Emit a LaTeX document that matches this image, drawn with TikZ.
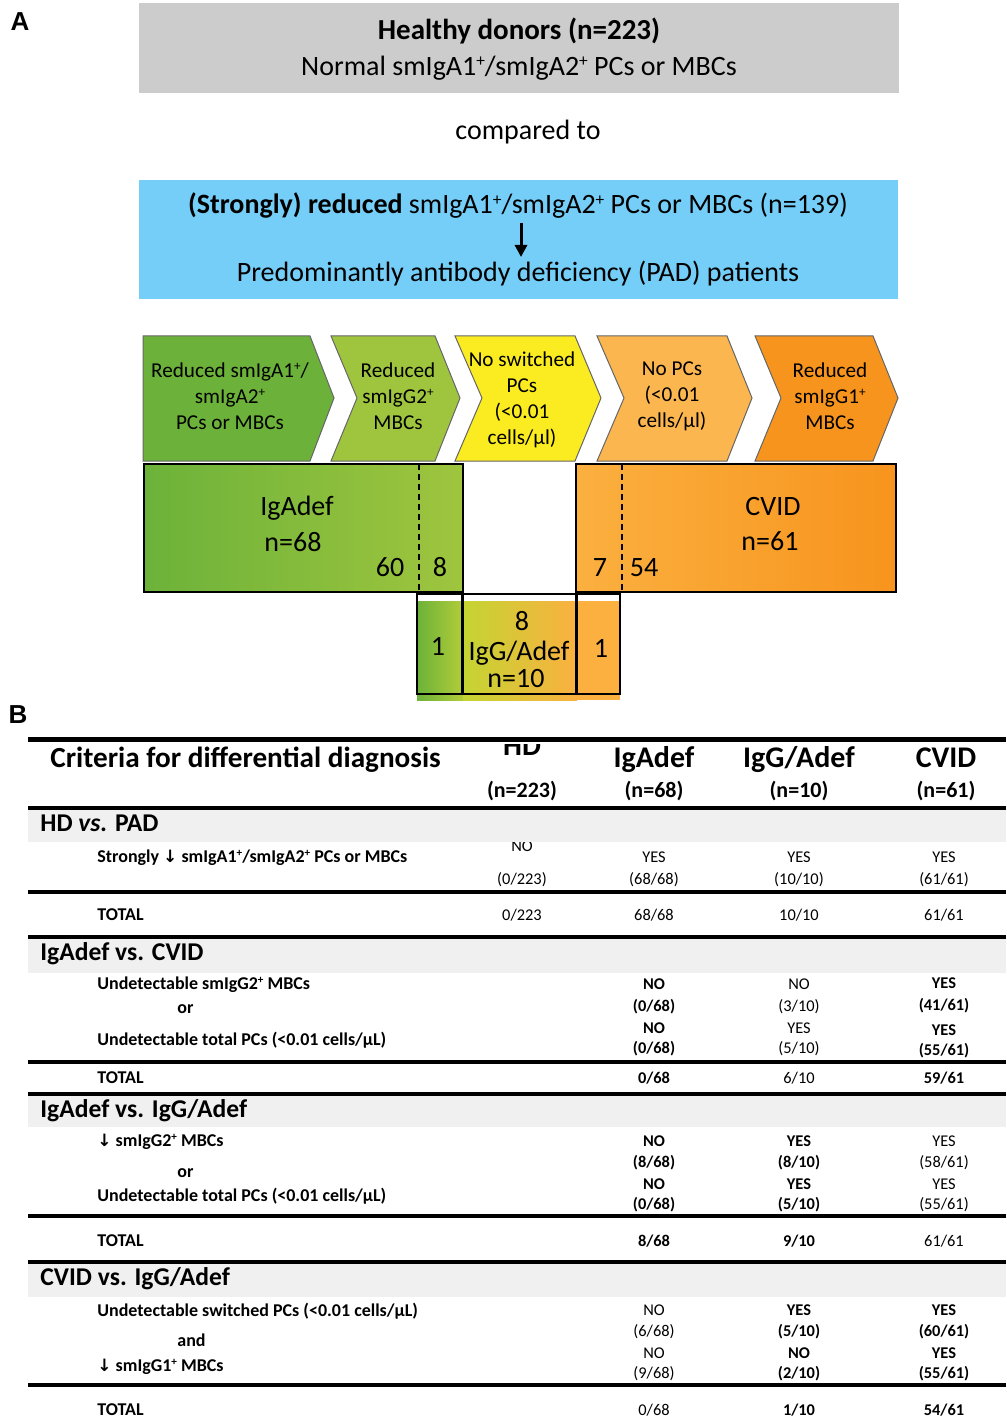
\documentclass[tikz,border=0pt]{standalone}
\usepackage{fontspec}
\setmainfont{Carlito}
\newfontfamily\labfont{Liberation Sans}
\newfontfamily\arrfont{DejaVu Sans}
\usetikzlibrary{arrows.meta}
\definecolor{hdgray}{HTML}{CCCCCC}
\definecolor{padblue}{HTML}{75CEF8}
\definecolor{gA}{HTML}{6CB23A}
\definecolor{gB}{HTML}{9FC53E}
\definecolor{yC}{HTML}{FBEC21}
\definecolor{oD}{HTML}{FBB040}
\definecolor{oE}{HTML}{F7941D}
\definecolor{band}{HTML}{F0F0F0}
\tikzset{
  lab/.style={font=\labfont\bfseries\fontsize{13}{15}\selectfont, inner sep=0},
  big/.style={font=\fontsize{14}{16}\selectfont, inner sep=0},
  chevtxt/.style={font=\fontsize{10.6}{13}\selectfont, align=center, inner sep=0},
  chev/.style={draw=black!60, line width=0.5pt},
  boxtxt/.style={font=\fontsize{14}{16}\selectfont, inner sep=0},
  hdr/.style={font=\bfseries\fontsize{15}{17}\selectfont, inner sep=0, text height=0.72em, text depth=0.22em},
  hdrn/.style={font=\bfseries\fontsize{11}{13}\selectfont, inner sep=0, text height=0.72em, text depth=0.22em},
  sect/.style={font=\bfseries\fontsize{12.8}{14}\selectfont, inner sep=0, anchor=west, text height=0.72em, text depth=0.22em},
  rowl/.style={font=\bfseries\fontsize{9}{11}\selectfont, inner sep=0, anchor=west, text height=0.72em, text depth=0.22em},
  val/.style={font=\fontsize{8.2}{10}\selectfont, inner sep=0, text height=0.72em, text depth=0.22em},
  valb/.style={font=\bfseries\fontsize{8.2}{10}\selectfont, inner sep=0, text height=0.72em, text depth=0.22em},
  rule/.style={line width=2pt},
}
\newcommand{\spl}{\raisebox{0.3em}{\scalebox{0.62}{+}}}
\newcommand{\dar}{{\arrfont\bfseries\fontsize{8.5}{10}\selectfont ↓}}
\begin{document}
\begin{tikzpicture}[x=0.5pt,y=-0.5pt]
\useasboundingbox (0,0) rectangle (1006,1428);

% ---------- Panel A ----------
\node[lab] (labA) at (20,22) {A};
\node[lab] (labB) at (18,715) {B};

\fill[hdgray] (139,3) rectangle (899,93);
\node[big, font=\bfseries\fontsize{14.5}{16}\selectfont] (hd1) at (519,31) {Healthy donors (n=223)};
\node[big] (hd2) at (519,68) {Normal smIgA1\spl/smIgA2\spl\ PCs or MBCs};

\node[big] (cmp) at (528,132) {compared to};

\fill[padblue] (139,180) rectangle (898,299);
\node[big] (pad1) at (518,206) {\textbf{(Strongly) reduced} smIgA1\spl/smIgA2\spl\ PCs or MBCs (n=139)};
\node[big] (pad2) at (518,274) {Predominantly antibody deficiency (PAD) patients};
\coordinate (a1) at (521,223);
\coordinate (a2) at (521,257);
\draw[line width=1.5pt, -{Triangle[length=6pt,width=6pt]}] (a1) -- (a2);

% chevrons
\filldraw[chev, fill=gA] (143,336) -- (310,336) -- (334,398) -- (310,461) -- (143,461) -- cycle;
\filldraw[chev, fill=gB] (331,336) -- (435,336) -- (460,398) -- (435,461) -- (331,461) -- (357,398) -- cycle;
\filldraw[chev, fill=yC] (455,336) -- (575,336) -- (601,398) -- (575,461) -- (455,461) -- (482,398) -- cycle;
\filldraw[chev, fill=oD!92!white] (597,336) -- (727,336) -- (752,398) -- (727,461) -- (597,461) -- (624,398) -- cycle;
\filldraw[chev, fill=oE] (755,336) -- (873,336) -- (898,398) -- (873,461) -- (755,461) -- (781,398) -- cycle;

\node[chevtxt] (c1) at (230,396) {Reduced smIgA1\spl/\\smIgA2\spl\\PCs or MBCs};
\node[chevtxt] (c2) at (398,396) {Reduced\\smIgG2\spl\\MBCs};
\node[chevtxt] (c3) at (522,400) {No switched\\PCs\\(<0.01\\cells/µl)};
\node[chevtxt] (c4) at (672,396) {No PCs\\(<0.01\\cells/µl)};
\node[chevtxt] (c5) at (830,396) {Reduced\\smIgG1\spl\\MBCs};

% IgAdef box
\draw[black, line width=0.6pt, left color=gA, right color=gB] (144,464) rectangle (463,592);
\draw[dashed, line width=0.7pt, dash pattern=on 3pt off 2pt] (419,464) -- (419,592);
\node[boxtxt] (igadef) at (297,508) {IgAdef};
\node[boxtxt] (n68) at (293,542) {n=68};
\node[boxtxt] (s60) at (390,567) {60};
\node[boxtxt] (s8) at (440,567) {8};

% CVID box
\draw[black, line width=0.6pt, left color=oD, right color=oE] (576,464) rectangle (896,592);
\draw[dashed, line width=0.7pt, dash pattern=on 3pt off 2pt] (622,464) -- (622,592);
\node[boxtxt] (cvid) at (773,507) {CVID};
\node[boxtxt] (n61) at (770,541) {n=61};
\node[boxtxt] (s7) at (600,568) {7};
\node[boxtxt] (s54) at (644,568) {54};

% IgG/Adef box
\fill[left color=gA, right color=gB!80!yC] (417,601) rectangle (463,700);
\fill[left color=gB!60!yC, middle color=yC, right color=oD] (463,601) rectangle (577,700);
\fill[oD] (577,601) rectangle (620,700);
\draw[black, line width=0.6pt] (417,594) rectangle (620,694);
\draw[black, line width=1.6pt] (462.5,594) -- (462.5,694);
\draw[black, line width=1.6pt] (576.5,594) -- (576.5,694);
\node[boxtxt] (g8) at (522,621) {8};
\node[boxtxt] (gname) at (519,653) {IgG/Adef};
\node[boxtxt] (gn) at (516,679) {n=10};
\node[boxtxt] (g1a) at (438,646) {1};
\node[boxtxt] (g1b) at (601,648) {1};

% ---------- Panel B ----------
\draw[line width=2.5pt] (28,739.5) -- (1006,739.5);
\begin{scope}
  \clip (480,744.5) rectangle (570,780);
  \node[hdr] (hHD) at (522,750) {HD};
\end{scope}
\node[hdr, anchor=west, font=\bfseries\fontsize{14.6}{17}\selectfont] (hcrit) at (50,762) {Criteria for differential diagnosis};
\node[hdr] (hIgA) at (654,762) {IgAdef};
\node[hdr] (hIgG) at (799,762) {IgG/Adef};
\node[hdr] (hCV) at (946,762) {CVID};
\node[hdrn] (nHD) at (522,792) {(n=223)};
\node[hdrn] (nIgA) at (654,792) {(n=68)};
\node[hdrn] (nIgG) at (799,792) {(n=10)};
\node[hdrn] (nCV) at (946,792) {(n=61)};
\draw[rule] (28,808) -- (1006,808);
\foreach \t in {587,725,889} \fill (\t-1.5,809) rectangle (\t+1.5,812);

% HD vs PAD
\node[val] (r1hd) at (522,846) {NO};
\fill[band] (28,810) rectangle (1006,842);
\node[sect] (s1) at (40,826) {HD \textit{vs.} PAD};
\node[rowl] (r1) at (97,857) {Strongly \dar\ smIgA1\spl/smIgA2\spl\ PCs or MBCs};
\node[val] (r1hdb) at (522,879) {(0/223)};
\node[val] at (654,857) {YES};
\node[val] at (654,879) {(68/68)};
\node[val] at (799,857) {YES};
\node[val] at (799,879) {(10/10)};
\node[val] at (944,857) {YES};
\node[val] at (944,879) {(61/61)};
\draw[rule] (28,891.5) -- (1006,891.5);
\node[rowl] (t1) at (97,915) {TOTAL};
\node[val] at (522,915) {0/223};
\node[val] at (654,915) {68/68};
\node[val] at (799,915) {10/10};
\node[val] at (944,915) {61/61};
\draw[rule] (28,937) -- (1006,937);

% IgAdef vs CVID
\fill[band] (28,939) rectangle (1006,973);
\node[sect] (s2) at (40,955) {IgAdef vs. CVID};
\node[rowl] at (97,984) {Undetectable smIgG2\spl\ MBCs};
\node[rowl] at (177,1008) {or};
\node[rowl] at (97,1040) {Undetectable total PCs (<0.01 cells/µL)};
\node[valb] at (654,984) {NO};
\node[valb] at (654,1006) {(0/68)};
\node[valb] at (654,1028) {NO};
\node[valb] at (654,1048) {(0/68)};
\node[val] at (799,984) {NO};
\node[val] at (799,1006) {(3/10)};
\node[val] at (799,1028) {YES};
\node[val] at (799,1048) {(5/10)};
\node[valb] at (944,983) {YES};
\node[valb] at (944,1005) {(41/61)};
\node[valb] at (944,1030) {YES};
\node[valb] at (944,1050) {(55/61)};
\draw[rule] (28,1061.5) -- (1006,1061.5);
\node[rowl] at (97,1078) {TOTAL};
\node[valb] at (654,1078) {0/68};
\node[val] at (799,1078) {6/10};
\node[valb] at (944,1078) {59/61};
\draw[rule] (28,1094) -- (1006,1094);

% IgAdef vs IgG/Adef
\fill[band] (28,1096) rectangle (1006,1127);
\node[sect] (s3) at (40,1112) {IgAdef vs. IgG/Adef};
\node[rowl] at (97,1141) {\dar\ smIgG2\spl\ MBCs};
\node[rowl] at (177,1172) {or};
\node[rowl] at (97,1196) {Undetectable total PCs (<0.01 cells/µL)};
\node[valb] at (654,1141) {NO};
\node[valb] at (654,1162) {(8/68)};
\node[valb] at (654,1184) {NO};
\node[valb] at (654,1204) {(0/68)};
\node[valb] at (799,1141) {YES};
\node[valb] at (799,1162) {(8/10)};
\node[valb] at (799,1184) {YES};
\node[valb] at (799,1204) {(5/10)};
\node[val] at (944,1141) {YES};
\node[val] at (944,1162) {(58/61)};
\node[val] at (944,1184) {YES};
\node[val] at (944,1204) {(55/61)};
\draw[rule] (28,1216) -- (1006,1216);
\node[rowl] at (97,1241) {TOTAL};
\node[valb] at (654,1241) {8/68};
\node[valb] at (799,1241) {9/10};
\node[val] at (944,1241) {61/61};
\draw[rule] (28,1262) -- (1006,1262);

% CVID vs IgG/Adef
\fill[band] (28,1264) rectangle (1006,1297);
\node[sect] (s4) at (40,1280) {CVID vs. IgG/Adef};
\node[rowl] at (97,1311) {Undetectable switched PCs (<0.01 cells/µL)};
\node[rowl] at (177,1341) {and};
\node[rowl] at (97,1366) {\dar\ smIgG1\spl\ MBCs};
\node[val] at (654,1310) {NO};
\node[val] at (654,1331) {(6/68)};
\node[val] at (654,1353) {NO};
\node[val] at (654,1373) {(9/68)};
\node[valb] at (799,1310) {YES};
\node[valb] at (799,1331) {(5/10)};
\node[valb] at (799,1353) {NO};
\node[valb] at (799,1373) {(2/10)};
\node[valb] at (944,1310) {YES};
\node[valb] at (944,1331) {(60/61)};
\node[valb] at (944,1353) {YES};
\node[valb] at (944,1373) {(55/61)};
\draw[rule] (28,1385) -- (1006,1385);
\node[rowl] at (97,1410) {TOTAL};
\node[val] at (654,1410) {0/68};
\node[valb] at (799,1410) {1/10};
\node[valb] at (944,1410) {54/61};
\end{tikzpicture}
\end{document}
